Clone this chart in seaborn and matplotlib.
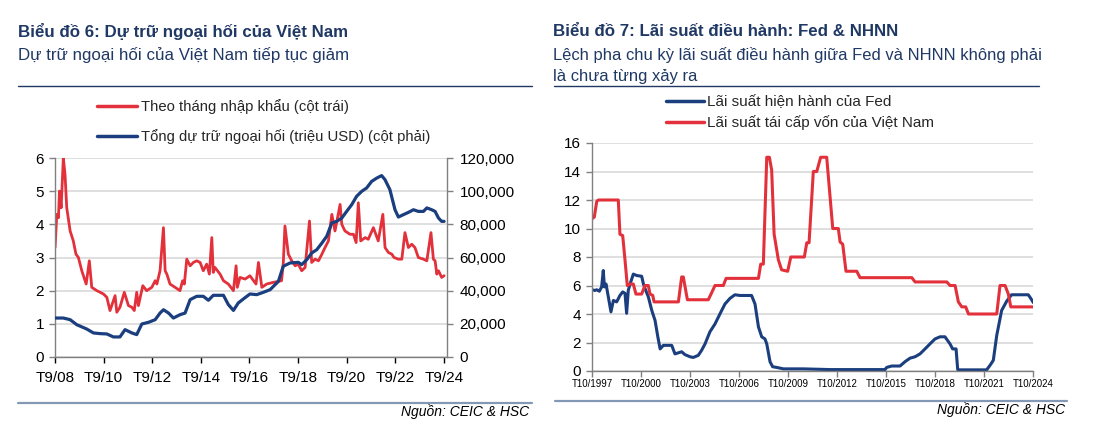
import numpy as np
import pandas as pd
import matplotlib
matplotlib.use("Agg")
import matplotlib.pyplot as plt
import seaborn as sns
from matplotlib.ticker import FuncFormatter, FixedLocator
from matplotlib.lines import Line2D

sns.set_theme(style="white")
plt.rcParams['font.family'] = ['Liberation Sans', 'DejaVu Sans']

RED = "#E2313B"
BLUE = "#1B3F7E"
TITLE = "#1F3864"
GRID = "#D9D9D9"
SPINE = "#808080"

# ---------------- Chart 6 data (decimal years) ----------------
imp_t = [2008.67, 2008.74, 2008.81, 2008.85, 2008.92, 2009.01, 2009.08, 2009.15, 2009.29, 2009.42,
         2009.53, 2009.63, 2009.77, 2009.95, 2010.08, 2010.18, 2010.39, 2010.66, 2010.80, 2010.93,
         2011.14, 2011.21, 2011.34, 2011.52, 2011.69, 2011.83, 2011.93, 2012.03, 2012.10, 2012.28,
         2012.44, 2012.65, 2012.79, 2012.86, 2012.99, 2013.13, 2013.20, 2013.27, 2013.40, 2013.61,
         2013.81, 2013.92, 2013.99, 2014.09, 2014.23, 2014.36, 2014.50, 2014.64, 2014.77, 2014.91,
         2015.02, 2015.12, 2015.18, 2015.25, 2015.46, 2015.60, 2015.80, 2016.01, 2016.12, 2016.17,
         2016.28, 2016.49, 2016.69, 2016.94, 2017.04, 2017.18, 2017.38, 2017.65, 2017.99, 2018.06,
         2018.13, 2018.27, 2018.41, 2018.55, 2018.68, 2018.82, 2018.96, 2019.14, 2019.23, 2019.37,
         2019.51, 2019.65, 2019.78, 2019.92, 2020.06, 2020.19, 2020.40, 2020.47, 2020.60, 2020.81,
         2020.95, 2021.06, 2021.15, 2021.25, 2021.43, 2021.56, 2021.77, 2021.97, 2022.16, 2022.25,
         2022.39, 2022.53, 2022.62, 2022.80, 2022.94, 2023.07, 2023.21, 2023.35, 2023.48, 2023.62,
         2023.83, 2023.97, 2024.14, 2024.24, 2024.31, 2024.38, 2024.45, 2024.58, 2024.68]
imp_months = [3.3, 4.3, 4.2, 5.0, 4.5, 6.0, 5.5, 4.5, 3.8, 3.5,
              3.1, 3.0, 2.6, 2.2, 2.9, 2.1, 2.0, 1.9, 1.8, 1.4,
              1.85, 1.35, 1.5, 1.95, 1.55, 1.5, 1.4, 1.95, 1.55, 2.15,
              2.0, 2.1, 2.3, 2.2, 2.6, 3.9, 2.6, 2.5, 2.2, 2.1,
              2.0, 2.3, 2.2, 2.95, 2.75, 2.85, 2.9, 2.85, 2.6, 2.8,
              2.5, 3.6, 2.55, 2.7, 2.5, 2.3, 2.2, 2.0, 2.75, 2.1,
              2.4, 2.35, 2.45, 2.2, 2.85, 2.1, 2.2, 2.25, 2.3, 2.8,
              3.95, 3.1, 2.9, 2.75, 2.8, 2.6, 2.7, 4.1, 2.85, 2.95,
              2.9, 3.1, 3.3, 3.5, 4.3, 3.8, 4.6, 4.0, 3.8, 3.7,
              3.7, 3.45, 4.65, 3.5, 3.6, 3.55, 3.9, 3.5, 4.3, 3.3,
              3.15, 3.1, 3.0, 2.95, 2.95, 3.75, 3.3, 3.4, 3.3, 3.0,
              2.95, 2.9, 3.75, 2.95, 2.9, 2.5, 2.6, 2.4, 2.45]

res_t = [2008.67, 2009.01, 2009.29, 2009.56, 2009.97, 2010.25, 2010.52, 2010.80, 2011.07, 2011.34,
         2011.55, 2011.83, 2012.03, 2012.24, 2012.51, 2012.79, 2012.99, 2013.13, 2013.34, 2013.54,
         2013.81, 2014.02, 2014.23, 2014.50, 2014.77, 2014.98, 2015.18, 2015.60, 2015.80, 2016.01,
         2016.21, 2016.42, 2016.69, 2016.97, 2017.24, 2017.52, 2017.86, 2018.06, 2018.34, 2018.68,
         2018.82, 2019.03, 2019.23, 2019.44, 2019.65, 2019.85, 2020.06, 2020.26, 2020.47, 2020.67,
         2020.88, 2021.08, 2021.29, 2021.49, 2021.70, 2021.91, 2022.11, 2022.25, 2022.45, 2022.66,
         2022.80, 2023.00, 2023.21, 2023.42, 2023.62, 2023.83, 2023.97, 2024.17, 2024.31, 2024.45,
         2024.58, 2024.68]
res_musd = [23500, 23500, 22500, 19500, 16900, 14500, 14100, 13900, 12100, 12100,
            16500, 14500, 13500, 19900, 20900, 22500, 26500, 28500, 26500, 23500,
            25500, 26500, 34600, 36600, 36600, 34200, 37200, 37200, 31600, 28100,
            32600, 35000, 38000, 37600, 39000, 40600, 45600, 54700, 56700, 57100,
            55700, 58700, 62700, 64700, 68700, 72800, 80800, 81800, 83800, 87800,
            91900, 96900, 99900, 101900, 105900, 107900, 109400, 106900, 100900, 88800,
            84400, 85800, 87200, 88800, 87800, 87800, 89900, 88800, 87800, 83800,
            81800, 81800]

x6_ticks = [2008.667 + 2 * k for k in range(9)]
x6_labels = ["T9/08", "T9/10", "T9/12", "T9/14", "T9/16", "T9/18", "T9/20", "T9/22", "T9/24"]

# ---------------- Chart 7 data (decimal years) ----------------
fed_t = [1997.77, 1997.93, 1998.04, 1998.20, 1998.34, 1998.44, 1998.51, 1998.61, 1998.75, 1998.91,
         1999.06, 1999.26, 1999.46, 1999.63, 1999.77, 1999.87, 1999.97, 2000.08, 2000.28, 2000.49,
         2000.79, 2000.90, 2001.06, 2001.20, 2001.41, 2001.61, 2001.78, 2001.92, 2002.12, 2002.63,
         2002.83, 2003.24, 2003.44, 2003.75, 2003.95, 2004.26, 2004.46, 2004.67, 2004.97, 2005.28,
         2005.58, 2005.89, 2006.20, 2006.50, 2006.81, 2007.22, 2007.52, 2007.73, 2007.94, 2008.14,
         2008.34, 2008.45, 2008.65, 2008.81, 2009.06, 2009.47, 2010.69, 2012.33, 2015.69, 2015.79,
         2016.10, 2016.61, 2016.91, 2017.22, 2017.53, 2017.83, 2018.14, 2018.44, 2018.75, 2019.06,
         2019.36, 2019.67, 2019.83, 2020.04, 2020.14, 2020.28, 2021.91, 2022.12, 2022.32, 2022.53,
         2022.83, 2023.14, 2023.44, 2024.46, 2024.61, 2024.77]
fed_rate = [5.7, 5.65, 5.7, 5.6, 5.9, 7.05, 5.9, 6.1, 5.2, 4.15,
            4.95, 4.85, 5.3, 5.55, 5.45, 4.05, 5.65, 6.1, 6.8, 6.7,
            6.65, 6.1, 5.6, 5.2, 4.25, 3.55, 2.4, 1.55, 1.8, 1.8,
            1.2, 1.35, 1.15, 1.0, 0.95, 1.1, 1.45, 1.9, 2.75, 3.3,
            4.0, 4.7, 5.1, 5.35, 5.3, 5.3, 5.3, 4.7, 3.1, 2.4,
            2.25, 1.9, 0.65, 0.3, 0.25, 0.15, 0.15, 0.1, 0.1, 0.25,
            0.35, 0.35, 0.65, 0.9, 1.0, 1.2, 1.55, 1.9, 2.25, 2.4,
            2.4, 1.9, 1.55, 1.55, 0.1, 0.08, 0.08, 0.4, 0.75, 2.5,
            4.25, 4.9, 5.35, 5.35, 5.1, 4.8]

vn_t = [1997.77, 1997.89, 1998.04, 1998.14, 1999.36, 1999.46, 1999.63, 1999.77, 1999.91, 2000.08,
        2000.28, 2000.44, 2000.79, 2000.99, 2001.20, 2001.30, 2001.47, 2001.55, 2003.04, 2003.24,
        2003.34, 2003.59, 2004.87, 2005.08, 2005.28, 2005.79, 2005.96, 2007.94, 2008.08, 2008.24,
        2008.45, 2008.61, 2008.75, 2008.90, 2009.16, 2009.36, 2009.73, 2009.92, 2010.75, 2010.90,
        2011.04, 2011.30, 2011.51, 2011.75, 2012.12, 2012.49, 2012.83, 2012.94, 2013.10, 2013.30,
        2013.96, 2014.16, 2017.33, 2017.53, 2019.47, 2019.67, 2019.98, 2020.18, 2020.39, 2020.63,
        2020.80, 2022.53, 2022.73, 2023.04, 2023.24, 2023.39, 2024.78]
vn_rate = [10.7, 10.8, 11.9, 12.0, 12.0, 9.6, 9.5, 7.8, 6.0, 6.1,
           6.1, 5.4, 5.4, 6.0, 6.0, 5.4, 5.3, 4.85, 4.85, 6.6,
           6.6, 5.0, 5.0, 5.5, 6.0, 6.0, 6.5, 6.5, 7.5, 7.5,
           15.0, 15.0, 14.1, 9.6, 7.8, 7.1, 7.0, 8.0, 8.0, 9.0,
           9.0, 14.0, 14.0, 15.0, 15.0, 10.0, 10.0, 9.05, 8.9, 7.0,
           7.0, 6.55, 6.55, 6.25, 6.25, 6.0, 6.0, 4.85, 4.5, 4.5,
           4.0, 4.0, 6.0, 6.0, 5.4, 4.5, 4.5]

x7_ticks = [1997.75 + 3 * k for k in range(10)]
x7_labels = ["T10/1997", "T10/2000", "T10/2003", "T10/2006", "T10/2009",
             "T10/2012", "T10/2015", "T10/2018", "T10/2021", "T10/2024"]

df_imp = pd.DataFrame({"t": imp_t, "v": imp_months})
df_res = pd.DataFrame({"t": res_t, "v": res_musd})
df_fed = pd.DataFrame({"t": fed_t, "v": fed_rate})
df_vn = pd.DataFrame({"t": vn_t, "v": vn_rate})

W, H = 1103, 430
fig = plt.figure(figsize=(W / 100, H / 100), dpi=100)

def fx(px):
    return px / W

def fy(py):
    return 1 - py / H

# ---------------- Chart 6 ----------------
ax1 = fig.add_axes([fx(55), fy(357), fx(447) - fx(55), fy(158) - fy(357)])
ax1r = ax1.twinx()
sns.lineplot(data=df_imp, x="t", y="v", ax=ax1, color=RED, lw=2.0, estimator=None, sort=False)
sns.lineplot(data=df_res, x="t", y="v", ax=ax1r, color=BLUE, lw=2.3, estimator=None, sort=False)

ax1.set_xlim(2008.667, 2024.80)
ax1.set_ylim(0, 6)
ax1r.set_ylim(0, 120000)
ax1.set_yticks(range(0, 7))
ax1r.set_yticks(range(0, 120001, 20000))
ax1r.yaxis.set_major_formatter(FuncFormatter(lambda v, p: f"{v:,.0f}"))
ax1.xaxis.set_major_locator(FixedLocator(x6_ticks))
ax1.set_xticklabels(x6_labels)
ax1.yaxis.grid(True, color=GRID, lw=1.2)
ax1.set_axisbelow(True)
for a in (ax1, ax1r):
    a.set_xlabel("")
    a.set_ylabel("")
    for s in a.spines.values():
        s.set_color(SPINE)
        s.set_linewidth(1.0)
ax1.spines["top"].set_visible(False)
ax1.spines["right"].set_visible(False)
ax1r.spines["top"].set_visible(False)
ax1r.spines["left"].set_visible(False)
ax1r.spines["bottom"].set_visible(False)
ax1.tick_params(axis="both", direction="out", length=4, width=1, color=SPINE,
                labelsize=11, colors="black", pad=4)
ax1.tick_params(axis="x", labelsize=11, pad=6, bottom=True)
ax1.tick_params(axis="y", left=True)
ax1r.tick_params(axis="y", direction="out", length=4, width=1, color=SPINE,
                 labelsize=11, colors="black", pad=5, right=True)
ax1.tick_params(axis="x", colors="black")

handles6 = [Line2D([], [], color=RED, lw=2.5), Line2D([], [], color=BLUE, lw=2.5)]
labels6 = ["Theo tháng nhập khẩu (cột trái)", "Tổng dự trữ ngoại hối (triệu USD) (cột phải)"]
fig.legend(handles6, labels6, loc="upper left", bbox_to_anchor=(fx(97), fy(99)),
           bbox_transform=fig.transFigure, frameon=False, fontsize=10.7,
           handlelength=2.7, handletextpad=0.25, labelspacing=1.0,
           borderpad=0, borderaxespad=0)

# ---------------- Chart 7 ----------------
ax2 = fig.add_axes([fx(592), fy(371), fx(1033) - fx(592), fy(143) - fy(371)])
sns.lineplot(data=df_fed, x="t", y="v", ax=ax2, color=BLUE, lw=2.2, estimator=None, sort=False)
sns.lineplot(data=df_vn, x="t", y="v", ax=ax2, color=RED, lw=2.2, estimator=None, sort=False)
ax2.set_xlim(1997.75, 2024.75)
ax2.set_ylim(0, 16)
ax2.set_yticks(range(0, 17, 2))
ax2.xaxis.set_major_locator(FixedLocator(x7_ticks))
ax2.set_xticklabels(x7_labels)
ax2.yaxis.grid(True, color=GRID, lw=1.2)
ax2.set_axisbelow(True)
ax2.set_xlabel("")
ax2.set_ylabel("")
for s in ax2.spines.values():
    s.set_color(SPINE)
    s.set_linewidth(1.0)
ax2.spines["top"].set_visible(False)
ax2.spines["right"].set_visible(False)
ax2.tick_params(axis="both", direction="out", length=4, width=1, color=SPINE,
                colors="black", left=True, bottom=True)
ax2.tick_params(axis="y", labelsize=11, pad=4)
ax2.tick_params(axis="x", labelsize=7, pad=2)

handles7 = [Line2D([], [], color=BLUE, lw=2.5), Line2D([], [], color=RED, lw=2.5)]
labels7 = ["Lãi suất hiện hành của Fed", "Lãi suất tái cấp vốn của Việt Nam"]
fig.legend(handles7, labels7, loc="upper left", bbox_to_anchor=(fx(666), fy(95)),
           bbox_transform=fig.transFigure, frameon=False, fontsize=11,
           handlelength=2.5, handletextpad=0.2, labelspacing=0.42,
           borderpad=0, borderaxespad=0)

# ---------------- Titles, rules, sources ----------------
fig.text(fx(18), fy(32), "Biểu đồ 6: Dự trữ ngoại hối của Việt Nam", color=TITLE,
         fontsize=12.2, fontweight="bold", va="center", ha="left")
fig.text(fx(18), fy(55), "Dự trữ ngoại hối của Việt Nam tiếp tục giảm", color=TITLE,
         fontsize=12.2, va="center", ha="left")
fig.text(fx(553), fy(32), "Biểu đồ 7: Lãi suất điều hành: Fed & NHNN", color=TITLE,
         fontsize=12.2, fontweight="bold", va="center", ha="left")
fig.text(fx(553), fy(55), "Lệch pha chu kỳ lãi suất điều hành giữa Fed và NHNN không phải",
         color=TITLE, fontsize=11.9, va="center", ha="left")
fig.text(fx(553), fy(76), "là chưa từng xảy ra", color=TITLE, fontsize=11.9,
         va="center", ha="left")

fig.add_artist(Line2D([fx(18), fx(532)], [fy(86), fy(86)], color=TITLE, lw=1.0))
fig.add_artist(Line2D([fx(554), fx(1039)], [fy(86), fy(86)], color=TITLE, lw=1.0))
fig.add_artist(Line2D([fx(18), fx(532)], [fy(403), fy(403)], color="#8398B4", lw=1.6))
fig.add_artist(Line2D([fx(555), fx(1067)], [fy(401), fy(401)], color="#8398B4", lw=1.6))

fig.text(fx(529), fy(412), "Nguồn: CEIC & HSC", fontsize=10, style="italic",
         color="black", ha="right", va="center")
fig.text(fx(1065), fy(410), "Nguồn: CEIC & HSC", fontsize=10, style="italic",
         color="black", ha="right", va="center")

fig.savefig("out.png", dpi=100, facecolor="white")
